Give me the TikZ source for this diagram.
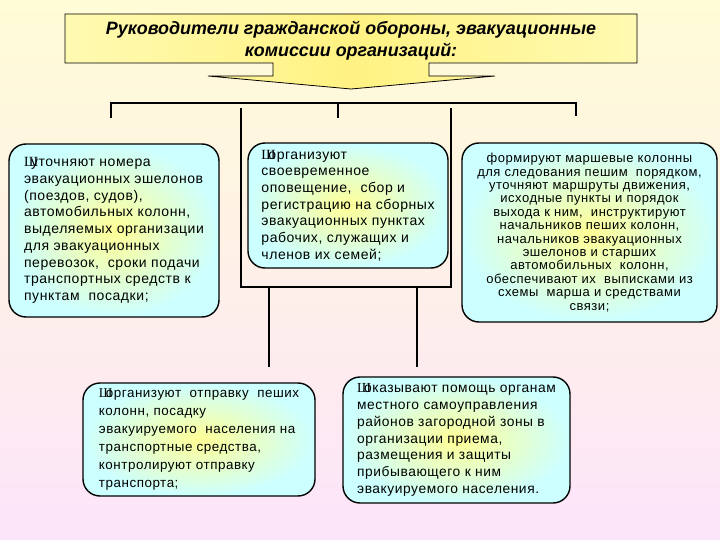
\documentclass[tikz,border=0pt]{standalone}
\usepackage{fontspec}
\setmainfont{Liberation Sans}
\newfontfamily\glyphfont{Liberation Serif}
\newfontfamily\boxfont[LetterSpace=4]{Liberation Sans}
\usepackage{xcolor}

\definecolor{bgtop}{RGB}{255,252,214}
\definecolor{bgbot}{RGB}{252,228,250}
\definecolor{titleedge}{RGB}{255,250,178}
\definecolor{titlemid}{RGB}{255,242,130}
\definecolor{boxmid}{RGB}{255,255,150}
\definecolor{boxedge}{RGB}{204,255,255}

% broken bullet glyph in front of the first word
\newcommand{\badbullet}{\rlap{\glyphfont Ш}\hspace{7pt}}

\begin{document}
\begin{tikzpicture}[
  x=1pt, y=-1pt,
  task/.style={rectangle, rounded corners=17pt, draw=black, line width=1.4pt,
               inner color=boxmid, outer color=boxedge, align=left, inner sep=0pt,
               font=\boxfont\fontsize{14}{16.7}\selectfont},
  headline/.style={align=center, font=\fontsize{17.9}{22}\selectfont\bfseries\itshape},
  link/.style={draw=black, line width=1.5pt}
]
\useasboundingbox (0,0) rectangle (720,540);
\shade[top color=bgtop, bottom color=bgbot] (0,0) rectangle (720,540);

% title callout
\path[draw=black, line width=0.8pt, left color=titleedge, right color=titleedge, middle color=titlemid]
  (65,14) -- (637,14) -- (637,63) -- (429,63) -- (429,76) -- (495,76) -- (351,89)
  -- (208,76) -- (273,76) -- (273,63) -- (65,63) -- cycle;
\node[headline] (head) at (351,41) {Руководители гражданской обороны, эвакуационные\\комиссии организаций:};

% duty boxes
\node[task, minimum width=210pt, minimum height=173pt] (specify) at (114,230.5)
  {\badbullet уточняют номера\\эвакуационных эшелонов\\(поездов, судов),\\автомобильных колонн,\\выделяемых организации\\для эвакуационных\\перевозок,~ сроки подачи\\транспортных средств к\\пунктам~ посадки;};
\node[task, minimum width=200pt, minimum height=125pt] (notify) at (348,205.5)
  {\badbullet организуют\\своевременное\\оповещение,~ сбор и\\регистрацию на сборных\\эвакуационных пунктах\\рабочих, служащих и\\членов их семей;};
\node[task, minimum width=255pt, minimum height=179pt, align=center,
      font=\boxfont\fontsize{13}{13.4}\selectfont] (columns) at (589.5,232.5)
  {формируют маршевые колонны\\для следования пешим~ порядком,\\уточняют маршруты движения,\\исходные пункты и порядок\\выхода к ним,~ инструктируют\\начальников пеших колонн,\\начальников эвакуационных\\эшелонов и старших\\автомобильных~ колонн,\\обеспечивают их~ выписками из\\схемы~ марша и средствами\\связи;};
\node[task, minimum width=232pt, minimum height=113pt,
      font=\boxfont\fontsize{13.4}{17.8}\selectfont] (dispatch) at (199,439.5)
  {\badbullet организуют~ отправку~ пеших\\колонн, посадку\\эвакуируемого~ населения на\\транспортные средства,\\контролируют отправку\\транспорта;\hspace{6pt}};
\node[task, minimum width=227pt, minimum height=126pt,
      font=\boxfont\fontsize{13.8}{16.8}\selectfont] (assist) at (456.5,440)
  {\badbullet оказывают помощь органам\\местного самоуправления\\районов загородной зоны в\\организации приема,\\размещения и защиты\\прибывающего к ним\\эвакуируемого населения.};

% bracket under the title
\coordinate (brL) at (111,103);
\coordinate (brM) at (338,103);
\coordinate (brR) at (576,103);
\draw[link] ([yshift=-15pt]brL) -- (brL) -- (brR) -- ([yshift=-13pt]brR);
\draw[link] (brM) -- ([yshift=-15pt]brM);

% frame round the middle box
\coordinate (frTL) at (241,108);
\coordinate (frTR) at (451,108);
\coordinate (frBL) at (241,287);
\coordinate (frBR) at (451,287);
\draw[link] (frTL) -- (frBL) -- (frBR) -- (frTR);

% drops to the lower boxes
\coordinate (dropL) at (269,287);
\coordinate (dropR) at (417,287);
\draw[link] (dropL) -- ([yshift=-80pt]dropL);
\draw[link] (dropR) -- ([yshift=-80pt]dropR);
\end{tikzpicture}
\end{document}
